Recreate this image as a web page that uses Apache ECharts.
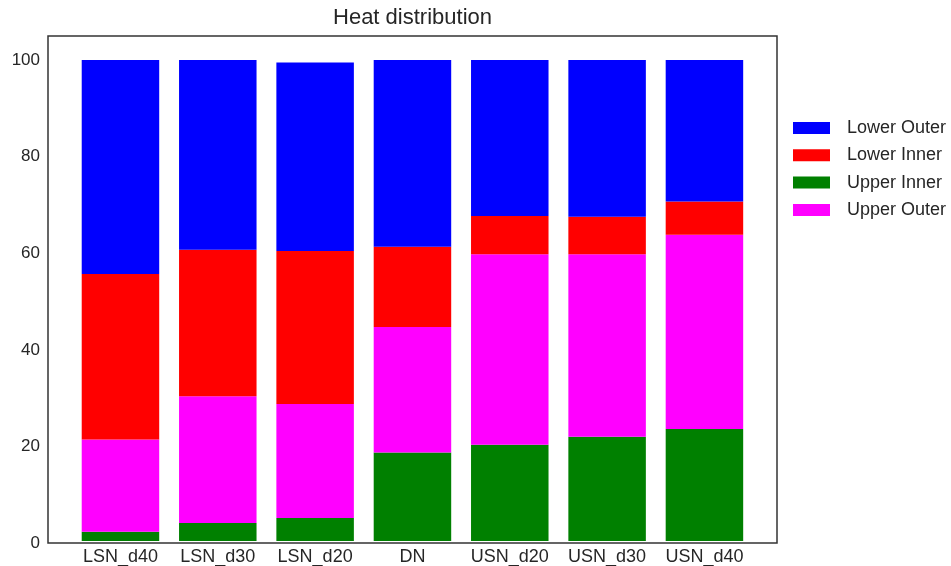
<!DOCTYPE html>
<html>
<head>
<meta charset="utf-8">
<script src="https://cdn.jsdelivr.net/npm/echarts@6/dist/echarts.min.js"></script>
<style>html,body{margin:0;padding:0;background:#fff}#c{width:951px;height:566px}</style>
</head>
<body>
<div id="c"></div>
<script>
var categories = ['LSN_d40', 'LSN_d30', 'LSN_d20', 'DN', 'USN_d20', 'USN_d30', 'USN_d40'];
var upperInner = [1.9, 3.75, 4.8, 18.4, 20.0, 21.7, 23.3];
var upperOuter = [19.2, 26.35, 23.7, 26.1, 39.6, 37.9, 40.4];
var lowerInner = [34.4, 30.45, 31.8, 16.7, 8.0, 7.8, 6.9];
var lowerOuter = [44.5, 39.45, 39.2, 38.8, 32.4, 32.6, 29.4];
var yTicks = [0, 20, 40, 60, 80, 100];
var legendOrder = ['Lower Outer', 'Lower Inner', 'Upper Inner', 'Upper Outer'];

var font = '"Liberation Sans", Arial, sans-serif';
var textColor = '#262626';

function mk(name, vals, color) {
  return {
    name: name, type: 'bar', stack: 'total', barWidth: 77.5,
    xAxisIndex: 1, yAxisIndex: 1,
    itemStyle: { color: color },
    emphasis: { disabled: true },
    data: vals
  };
}

var chart = echarts.init(document.getElementById('c'), null, { renderer: 'canvas' });
chart.setOption({
  animation: false,
  backgroundColor: '#fff',
  title: {
    text: 'Heat distribution', left: 412.5, textAlign: 'center', top: 7, padding: 0,
    textStyle: { fontFamily: font, fontSize: 22, fontWeight: 'normal', color: textColor }
  },
  legend: {
    orient: 'vertical', left: 793, top: 118, padding: 0,
    data: legendOrder, icon: 'rect', itemWidth: 37, itemHeight: 12, itemGap: 7.3,
    textStyle: { fontFamily: font, fontSize: 18, color: textColor, lineHeight: 20, padding: [0, 0, 0, 12] }
  },
  grid: [
    { left: 48, right: 174, top: 36, bottom: 23, show: true,
      borderColor: '#333', borderWidth: 1.5, backgroundColor: 'transparent', z: 5 },
    { left: 71.8, right: 197.9, top: 36, bottom: 23 }
  ],
  xAxis: [
    { type: 'value', gridIndex: 0, min: 0, max: 1, show: false },
    { type: 'category', gridIndex: 1, data: categories, boundaryGap: true,
      axisLine: { show: false }, axisTick: { show: false }, splitLine: { show: false },
      axisLabel: { fontFamily: font, fontSize: 18, color: textColor, margin: 7, interval: 0 } }
  ],
  yAxis: [
    { type: 'value', gridIndex: 0, min: 0, max: 105, interval: 20,
      axisLine: { show: false }, axisTick: { show: false }, splitLine: { show: false },
      axisLabel: { customValues: yTicks, fontFamily: font, fontSize: 17, color: textColor, margin: 8 } },
    { type: 'value', gridIndex: 1, min: 0, max: 105, show: false, splitLine: { show: false } }
  ],
  series: [
    mk('Upper Inner', upperInner, '#008000'),
    mk('Upper Outer', upperOuter, '#ff00ff'),
    mk('Lower Inner', lowerInner, '#ff0000'),
    mk('Lower Outer', lowerOuter, '#0000ff')
  ]
});
</script>
</body>
</html>
